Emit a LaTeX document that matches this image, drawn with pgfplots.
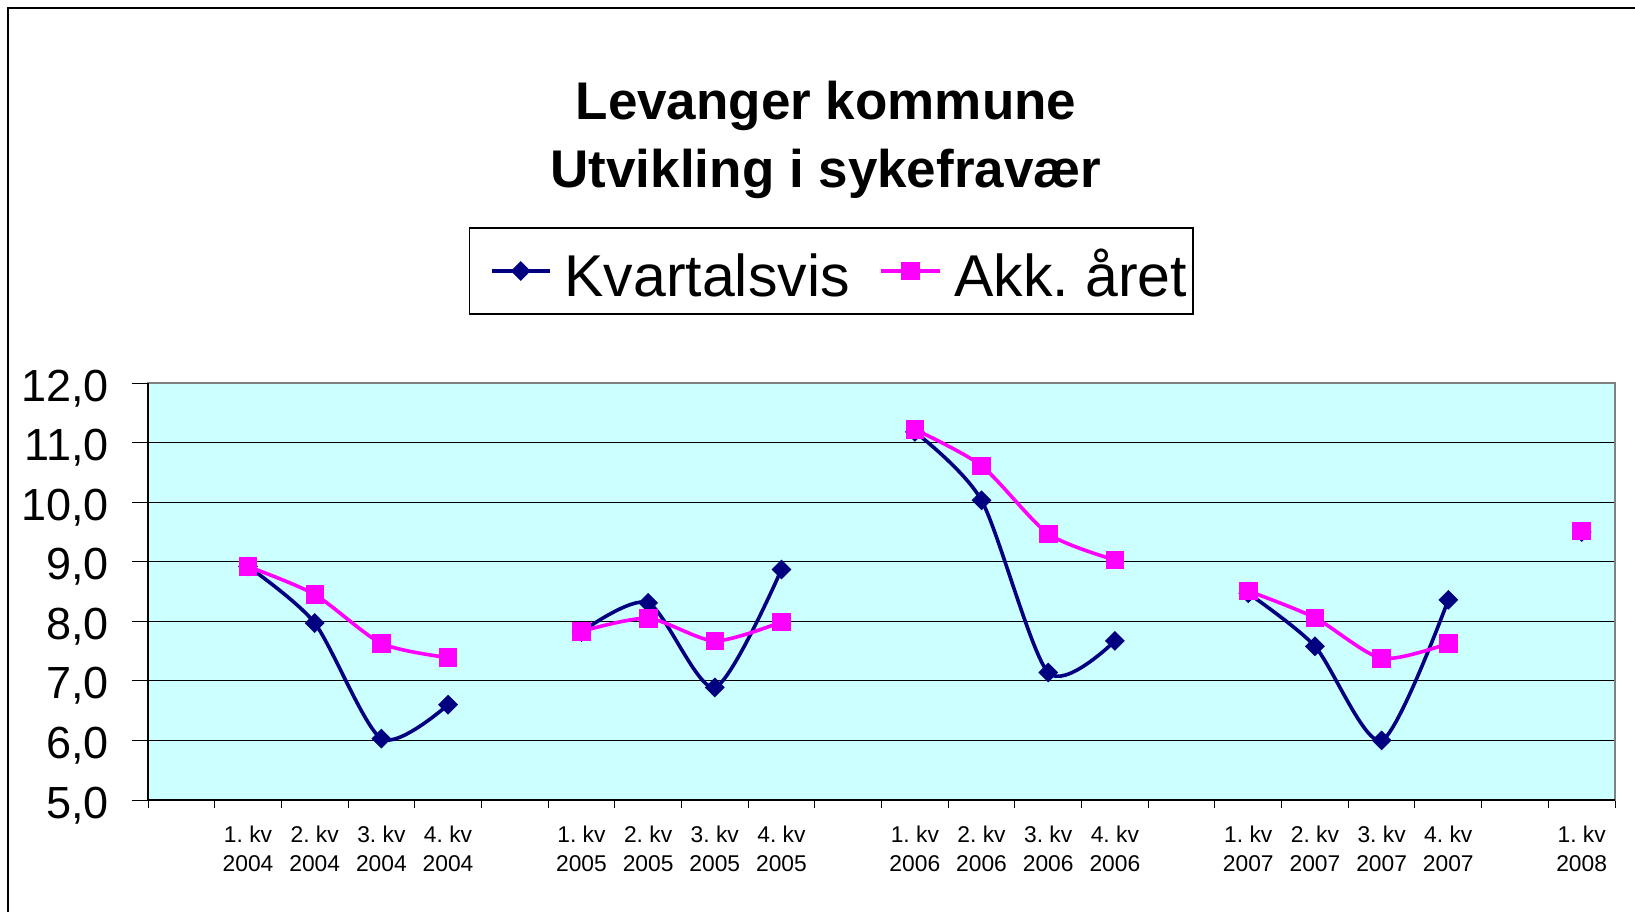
\documentclass[border=0pt]{standalone}
\usepackage{fontspec}
\setmainfont{Liberation Sans}
\usepackage{pgfplots}
\pgfplotsset{compat=1.18}
\usepackage{pgfplotstable}
\definecolor{kvnavy}{RGB}{0,0,128}
\definecolor{akkmag}{RGB}{255,0,255}
\definecolor{plotbg}{RGB}{204,255,255}
\definecolor{framegray}{RGB}{128,128,128}

\pgfplotstableread{
x kv akk
1.5 8.92 8.92
2.5 7.97 8.45
3.5 6.03 7.63
4.5 6.60 7.39
5.5 nan nan
6.5 7.82 7.83
7.5 8.31 8.05
8.5 6.89 7.67
9.5 8.87 7.99
10.5 nan nan
11.5 11.18 11.22
12.5 10.03 10.61
13.5 7.14 9.47
14.5 7.67 9.03
15.5 nan nan
16.5 8.47 8.51
17.5 7.58 8.06
18.5 6.00 7.38
19.5 8.36 7.63
20.5 nan nan
21.5 9.50 9.52
}\data

\begin{document}
\frenchspacing
\begin{tikzpicture}
\path[use as bounding box] (0,0) rectangle (817.5pt,456pt);
\draw[black, line width=0.8pt] (4pt,0pt) -- (4pt,452pt) -- (817.5pt,452pt);
\node[anchor=base, font=\bfseries\fontsize{26.5}{32}\selectfont, inner sep=0pt] at (413pt,396pt) {Levanger kommune};
\node[anchor=base, font=\bfseries\fontsize{26.5}{32}\selectfont, inner sep=0pt] at (413pt,362pt) {Utvikling i sykefravær};
\begin{axis}[
  at={(74pt,56pt)}, anchor=south west,
  scale only axis, width=733.5pt, height=208.5pt,
  xmin=0, xmax=22, ymin=5, ymax=12,
  ytick={5,6,...,12},
  xtick={1.5,2.5,3.5,4.5,6.5,7.5,8.5,9.5,11.5,12.5,13.5,14.5,16.5,17.5,18.5,19.5,21.5},
  xticklabels={{1.\ kv\\2004},{2.\ kv\\2004},{3.\ kv\\2004},{4.\ kv\\2004},
               {1.\ kv\\2005},{2.\ kv\\2005},{3.\ kv\\2005},{4.\ kv\\2005},
               {1.\ kv\\2006},{2.\ kv\\2006},{3.\ kv\\2006},{4.\ kv\\2006},
               {1.\ kv\\2007},{2.\ kv\\2007},{3.\ kv\\2007},{4.\ kv\\2007},
               {1.\ kv\\2008}},
  minor xtick={0,1,...,22},
  tick pos=left,
  tick align=outside, major tick length=8pt, minor tick length=4pt,
  tick style={black, line width=0.5pt},
  major x tick style={draw=none},
  ymajorgrids, major grid style={black, line width=0.5pt},
  axis line style={draw=framegray, line width=0.8pt},
  axis background/.style={fill=plotbg},
  unbounded coords=jump,
  /pgf/number format/assume math mode=true,
  yticklabel style={/pgf/number format/.cd, fixed, fixed zerofill, precision=1, use comma, /tikz/.cd,
     font=\fontsize{22.5}{27}\selectfont, anchor=base east, yshift=-9pt, xshift=-11.5pt, inner sep=0pt},
  xticklabel style={font=\fontsize{11.4}{14.5}\selectfont, align=center, anchor=north, inner sep=0pt, yshift=-5pt},
  legend columns=2,
  legend cell align=left,
  legend image code/.code={\path (-7pt,0pt); \draw[mark repeat=2,mark phase=2] plot coordinates {(0pt,0pt) (14.5pt,0pt) (29pt,0pt)};},
  legend style={at={(0.4659,1.2686)}, anchor=center, draw=black, line width=0.6pt, fill=white,
     inner xsep=3pt, inner ysep=0pt, font=\fontsize{29.5}{34}\selectfont,
     nodes={inner sep=0pt, text height=34pt, text depth=9pt},
     /tikz/every odd column/.append style={column sep=6.5pt},
     /tikz/every even column/.append style={column sep=8pt}},
  extra description/.code={\draw[black, line width=0.8pt] (rel axis cs:0,1) -- (rel axis cs:0,0) -- (rel axis cs:1,0);},
]
\addplot[kvnavy, line width=1.8pt, smooth, tension=0.45, mark=square*, mark size=3.3pt,
  mark options={rotate=45, solid, line width=0.4pt, fill=kvnavy}] table[x=x, y=kv] {\data};
\addlegendentry{Kvartalsvis}
\addplot[akkmag, line width=1.8pt, smooth, tension=0.45, mark=square*, mark size=4.4pt,
  mark options={solid, line width=0.4pt, fill=akkmag}] table[x=x, y=akk] {\data};
\addlegendentry{Akk.\ året}
\end{axis}
\end{tikzpicture}
\end{document}
